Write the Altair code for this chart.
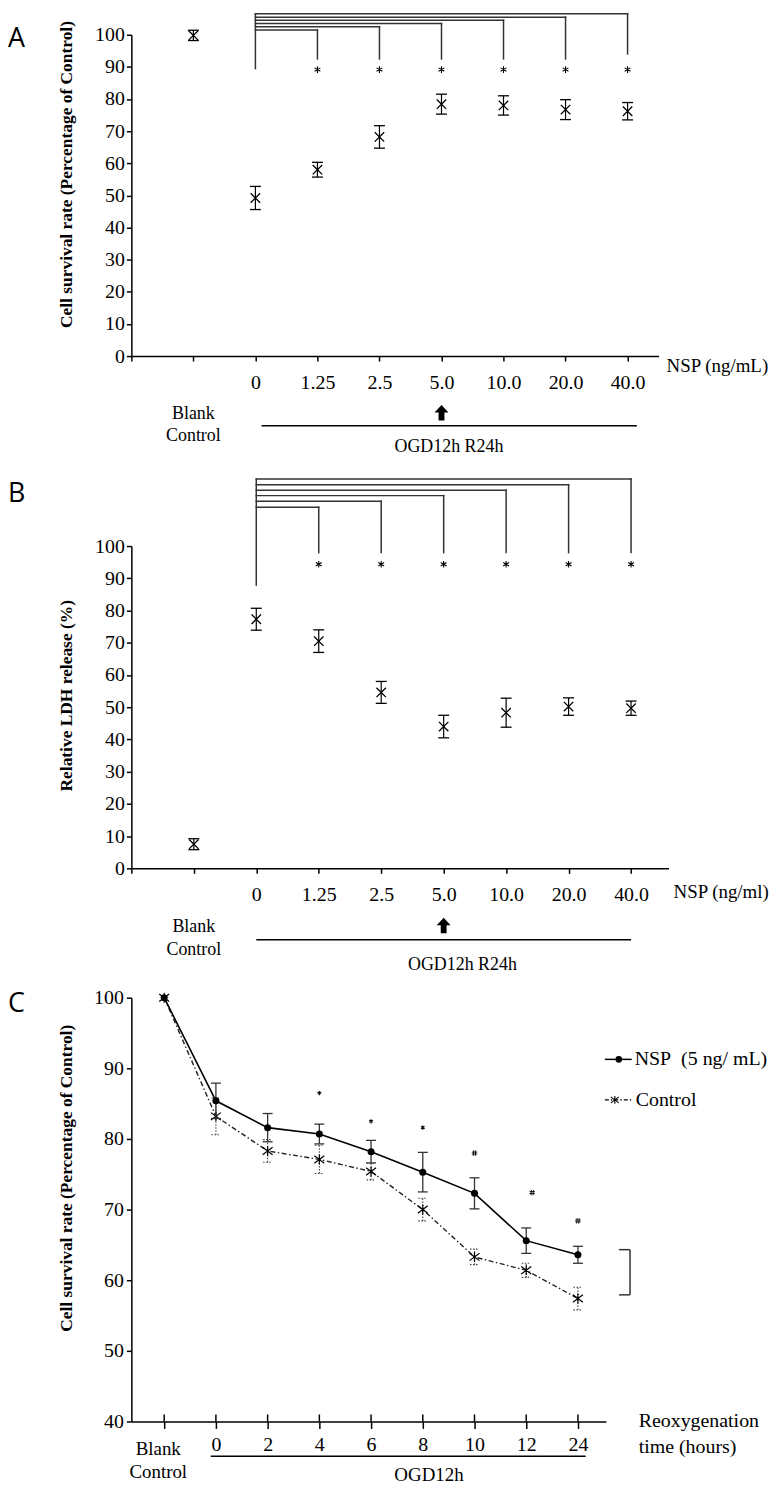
import altair as alt
import pandas as pd

# ---------------- values ----------------
# Panel A: cell survival rate (% of control), groups: Blank Control, NSP 0 ... 40.0 ng/mL
A_TICKS = ["", "", "0", "1.25", "2.5", "5.0", "10.0", "20.0", "40.0"]
A_MEAN = [99.8, 49.2, 58.0, 68.2, 78.4, 78.0, 76.7, 76.2]
A_ERR = [1.6, 3.6, 2.3, 3.5, 3.1, 3.0, 3.1, 2.7]
A_SIG = ["", "", "*", "*", "*", "*", "*", "*"]

# Panel B: relative LDH release (%)
B_TICKS = ["", "", "0", "1.25", "2.5", "5.0", "10.0", "20.0", "40.0"]
B_MEAN = [7.5, 77.3, 70.5, 54.6, 44.0, 48.3, 50.2, 49.7]
B_ERR = [1.7, 3.4, 3.5, 3.4, 3.5, 4.5, 2.7, 2.2]
B_SIG = ["", "", "*", "*", "*", "*", "*", "*"]

# Panel C: survival vs reoxygenation time (Blank, 0, 2, 4, 6, 8, 10, 12, 24 h)
C_TICKS = ["", "0", "2", "4", "6", "8", "10", "12", "24"]
C_NSP_MEAN = [100.0, 85.4, 81.6, 80.7, 78.2, 75.3, 72.3, 65.6, 63.6]
C_NSP_ERR = [0.0, 2.5, 2.0, 1.4, 1.6, 2.8, 2.2, 1.8, 1.2]
C_CTL_MEAN = [100.0, 83.2, 78.3, 77.1, 75.4, 70.0, 63.3, 61.4, 57.4]
C_CTL_ERR = [0.0, 2.6, 1.6, 2.0, 1.2, 1.6, 1.1, 1.0, 1.6]
C_SIG = ["", "", "", "*", "*", "*", "#", "#", "#"]
C_SIG_Y = [0, 0, 0, 86.5, 82.5, 81.6, 78.0, 72.4, 68.4]

SERIF = "Liberation Serif"
SANS = "Open Sans"
INK = "black"
LINE = "#333333"

X_PATH = "M-1,-1L1,1M-1,1L1,-1"
STAR_PATH = "M0,-1L0,1M-0.87,-0.5L0.87,0.5M-0.87,0.5L0.87,-0.5"
HASH_PATH = "M-0.3,-1L-0.45,1M0.45,-1L0.3,1M-1,-0.35L1,-0.35M-1,0.35L1,0.35"
ASTER_PATH = "M-1,-0.75L1,0.75M-1,0.75L1,-0.75M0,-1L0,1"
ARROW_PATH = "M0,-1L0.9,-0.05L0.38,-0.05L0.38,1L-0.38,1L-0.38,-0.05L-0.9,-0.05Z"

ONE = pd.DataFrame({"k": [0]})


def label_expr(labels):
    arr = ",".join("'" + s + "'" for s in labels)
    return "[" + arr + "][round(datum.value)]"


def ptext(s, px, py, size=18, align="center", font=SERIF, weight="normal"):
    return alt.Chart(ONE).mark_text(
        text=s, font=font, fontSize=size, fontWeight=weight, align=align,
        baseline="middle", color=INK, fill=INK
    ).encode(x=alt.value(px), y=alt.value(py))


def bound(py):
    return alt.Chart(ONE).mark_rule(color="white", strokeWidth=0.01).encode(
        x=alt.value(0), x2=alt.value(10), y=alt.value(py))


def dose_panel(letter, means, errs, sig, ticks, ytitle, xname, W, H, xmax, g):
    xscale = alt.Scale(domain=[0, xmax], nice=False, zero=False)
    yscale = alt.Scale(domain=[0, 100], nice=False, zero=False)
    xaxis = alt.Axis(values=list(range(len(ticks))), labelExpr=label_expr(ticks),
                     tickSize=5, labelPadding=g["lpad"], labelFlush=False,
                     labelOverlap=False, domainWidth=1.5, tickWidth=1.5)
    yaxis = alt.Axis(values=list(range(0, 101, 10)), tickSize=5, labelPadding=2,
                     titleX=-56, titleY=g["ty"], titleBaseline="bottom",
                     domainWidth=1.5, tickWidth=1.5)

    def X(f):
        return alt.X(f + ":Q", scale=xscale, axis=xaxis, title=None)

    def Y(f):
        return alt.Y(f + ":Q", scale=yscale, axis=yaxis, title=ytitle)

    def v(py):
        return 100.0 - py * 100.0 / H

    n = len(means)
    pos = list(range(1, n + 1))
    lo = [m - e for m, e in zip(means, errs)]
    hi = [m + e for m, e in zip(means, errs)]
    d = pd.DataFrame({"pos": pos, "val": means, "lo": lo, "hi": hi})
    caps = pd.DataFrame({"pos": pos * 2, "cap": lo + hi})

    bars = alt.Chart(d).mark_rule(color=INK, strokeWidth=1.2).encode(
        x=X("pos"), y=Y("lo"), y2=alt.Y2("hi"))
    capm = alt.Chart(caps).mark_rule(color=INK, strokeWidth=1.3, xOffset=-5.5, x2Offset=5.5).encode(
        x=X("pos"), x2=alt.X2("pos"), y=Y("cap"))
    pts = alt.Chart(d).mark_point(shape=X_PATH, size=90, filled=False, color=INK,
                                  strokeWidth=1.3, opacity=1).encode(x=X("pos"), y=Y("val"))

    sig_pos = [p for p, s in zip(pos, sig) if s == "*"]
    stars = alt.Chart(pd.DataFrame({"pos": sig_pos, "val": [v(g["star"])] * len(sig_pos)})).mark_point(
        shape=STAR_PATH, size=45, filled=False, color=INK, strokeWidth=1.1, opacity=1
    ).encode(x=X("pos"), y=Y("val"))

    base = pos[1]
    hz = pd.DataFrame({"pos": [base] * len(sig_pos), "pos2": sig_pos,
                       "val": [v(p) for p in g["levels"]]})
    vt = pd.DataFrame({"pos": sig_pos + [base],
                       "lo": [v(p) for p in g["drops"]] + [v(g["base_bottom"])],
                       "hi": [v(p) for p in g["levels"]] + [v(min(g["levels"]))]})
    hz_r = alt.Chart(hz).mark_rule(color=LINE, strokeWidth=1.5, strokeCap="square").encode(
        x=X("pos"), x2=alt.X2("pos2"), y=Y("val"))
    vt_r = alt.Chart(vt).mark_rule(color=LINE, strokeWidth=1.5, strokeCap="square").encode(
        x=X("pos"), y=Y("lo"), y2=alt.Y2("hi"))

    def tpos(p, py, s, size=18):
        return alt.Chart(pd.DataFrame({"pos": [p]})).mark_text(
            text=s, font=SERIF, fontSize=size, align="center", baseline="middle", color=INK, fill=INK
        ).encode(x=X("pos"), y=alt.value(py))

    arrow = alt.Chart(pd.DataFrame({"pos": [5]})).mark_point(
        shape=ARROW_PATH, size=240, filled=True, color=INK, opacity=1
    ).encode(x=X("pos"), y=alt.value(g["arrow"]))
    ogd = alt.Chart(pd.DataFrame({"pos": [g["ogd_range"][0]], "pos2": [g["ogd_range"][1]]})).mark_rule(
        color=INK, strokeWidth=1.5).encode(x=X("pos"), x2=alt.X2("pos2"), y=alt.value(g["ogd_line"]))

    layers = [
        bound(g["top"]), bound(g["bottom"]),
        bars, capm, pts, stars, hz_r, vt_r,
        ptext(letter, -124, g["letter"], size=27, align="left", font=SANS),
        ptext(xname, g["nsp"][0], g["nsp"][1], align="left", size=19),
        tpos(1, g["blank"][0], "Blank"), tpos(1, g["blank"][1], "Control"),
        arrow, ogd, tpos(g["ogd_x"], g["ogd_text"], "OGD12h R24h"),
    ]
    return alt.layer(*layers).properties(width=W, height=H)


HA = 323
panel_a = dose_panel(
    "A", A_MEAN, A_ERR, A_SIG, A_TICKS, "Cell survival rate (Percentage of Control)",
    "NSP (ng/mL)", 530, HA, 8.5,
    dict(lpad=11.5, ty=140, star=35,
         levels=[-4.7, -8.0, -11.2, -14.5, -17.7, -21.0],
         drops=[24.3, 24.3, 24.3, 24.3, 24.3, 19.3], base_bottom=34,
         blank=[HA + 58, HA + 80], arrow=HA + 57, ogd_line=HA + 70,
         ogd_text=HA + 91, ogd_x=5.12, ogd_range=(2.1, 8.15),
         nsp=(538, HA + 10), letter=4, top=-21, bottom=432))

HB = 324
panel_b = dose_panel(
    "B", B_MEAN, B_ERR, B_SIG, B_TICKS, "Relative LDH release (%)",
    "NSP (ng/ml)", 540, HB, 8.6,
    dict(lpad=11.5, ty=150, star=18.3,
         levels=[-39.0, -45.0, -50.7, -56.0, -61.7, -67.4],
         drops=[6.6] * 6, base_bottom=39.3,
         blank=[HB + 59, HB + 82], arrow=HB + 57.5, ogd_line=HB + 71.7,
         ogd_text=HB + 97, ogd_x=5.3, ogd_range=(2.0, 8.0),
         nsp=(545, HB + 24), letter=-52.7, top=-80.7, bottom=438.3))


def recovery_panel():
    W, H = 477, 426
    xscale = alt.Scale(domain=[-0.635, 8.54], nice=False, zero=False)
    yscale = alt.Scale(domain=[40, 100], nice=False, zero=False)
    xaxis = alt.Axis(values=list(range(9)), labelExpr=label_expr(C_TICKS), tickSize=7,
                     labelPadding=6.5, labelFlush=False, labelOverlap=False,
                     domainWidth=1.5, tickWidth=1.5)
    yaxis = alt.Axis(values=list(range(40, 101, 10)), tickSize=5, labelPadding=3,
                     titleX=-56, titleY=181, titleBaseline="bottom",
                     domainWidth=1.5, tickWidth=1.5)
    ytitle = "Cell survival rate (Percentage of Control)"

    def X(f):
        return alt.X(f + ":Q", scale=xscale, axis=xaxis, title=None)

    def Y(f):
        return alt.Y(f + ":Q", scale=yscale, axis=yaxis, title=ytitle)

    pos = list(range(len(C_NSP_MEAN)))
    nsp = pd.DataFrame({"pos": pos, "val": C_NSP_MEAN,
                        "lo": [m - e for m, e in zip(C_NSP_MEAN, C_NSP_ERR)],
                        "hi": [m + e for m, e in zip(C_NSP_MEAN, C_NSP_ERR)],
                        "err": C_NSP_ERR})
    ctl = pd.DataFrame({"pos": pos, "val": C_CTL_MEAN,
                        "lo": [m - e for m, e in zip(C_CTL_MEAN, C_CTL_ERR)],
                        "hi": [m + e for m, e in zip(C_CTL_MEAN, C_CTL_ERR)],
                        "err": C_CTL_ERR})
    nsp_e = nsp[nsp["err"] > 0]
    ctl_e = ctl[ctl["err"] > 0]
    nsp_caps = pd.DataFrame({"pos": list(nsp_e["pos"]) * 2, "cap": list(nsp_e["lo"]) + list(nsp_e["hi"])})
    ctl_caps = pd.DataFrame({"pos": list(ctl_e["pos"]) * 2, "cap": list(ctl_e["lo"]) + list(ctl_e["hi"])})

    DASHDOT = [5, 2.5, 1.5, 2.5]
    ctl_bar = alt.Chart(ctl_e).mark_rule(color="#444", strokeWidth=1.1, strokeDash=[1.5, 1.5]).encode(
        x=X("pos"), y=Y("lo"), y2=alt.Y2("hi"))
    ctl_cap = alt.Chart(ctl_caps).mark_rule(color="#444", strokeWidth=1.1, strokeDash=[1.5, 1.5],
                                            xOffset=-4.5, x2Offset=4.5).encode(
        x=X("pos"), x2=alt.X2("pos"), y=Y("cap"))
    ctl_line = alt.Chart(ctl).mark_line(color="#222", strokeWidth=1.4, strokeDash=DASHDOT).encode(
        x=X("pos"), y=Y("val"))
    ctl_pts = alt.Chart(ctl).mark_point(shape=ASTER_PATH, size=100, filled=False, color=INK,
                                        strokeWidth=1.2, opacity=1).encode(x=X("pos"), y=Y("val"))
    nsp_bar = alt.Chart(nsp_e).mark_rule(color=LINE, strokeWidth=1.3).encode(
        x=X("pos"), y=Y("lo"), y2=alt.Y2("hi"))
    nsp_cap = alt.Chart(nsp_caps).mark_rule(color=LINE, strokeWidth=1.3, xOffset=-5, x2Offset=5).encode(
        x=X("pos"), x2=alt.X2("pos"), y=Y("cap"))
    nsp_line = alt.Chart(nsp).mark_line(color=INK, strokeWidth=1.6).encode(x=X("pos"), y=Y("val"))
    nsp_pts = alt.Chart(nsp).mark_point(shape="circle", size=50, filled=True, color=INK,
                                        opacity=1).encode(x=X("pos"), y=Y("val"))

    star_rows = [(p, y) for p, s, y in zip(pos, C_SIG, C_SIG_Y) if s == "*"]
    hash_rows = [(p, y) for p, s, y in zip(pos, C_SIG, C_SIG_Y) if s == "#"]
    stars = alt.Chart(pd.DataFrame({"pos": [r[0] for r in star_rows], "val": [r[1] for r in star_rows]})).mark_point(
        shape=STAR_PATH, size=18, filled=False, color=INK, strokeWidth=1.1, opacity=1
    ).encode(x=X("pos"), y=Y("val"))
    hash_main = [r for r in hash_rows if r[0] != 7]
    hash_shift = [r for r in hash_rows if r[0] == 7]
    hashes = alt.Chart(pd.DataFrame({"pos": [r[0] for r in hash_main], "val": [r[1] for r in hash_main]})).mark_point(
        shape=HASH_PATH, size=30, filled=False, color=INK, strokeWidth=0.9, opacity=1
    ).encode(x=X("pos"), y=Y("val"))
    hashes2 = alt.Chart(pd.DataFrame({"pos": [r[0] for r in hash_shift], "val": [r[1] for r in hash_shift]})).mark_point(
        shape=HASH_PATH, size=30, filled=False, color=INK, strokeWidth=0.9, opacity=1, xOffset=6
    ).encode(x=X("pos"), y=Y("val"))

    xticks_up = alt.Chart(pd.DataFrame({"pos": pos})).mark_rule(color=INK, strokeWidth=1.5).encode(
        x=X("pos"), y=alt.value(H), y2=alt.value(H - 7))

    def tpos(p, py, s, size=19):
        return alt.Chart(pd.DataFrame({"pos": [p]})).mark_text(
            text=s, font=SERIF, fontSize=size, align="center", baseline="middle", color=INK, fill=INK
        ).encode(x=X("pos"), y=alt.value(py))

    ogd = alt.Chart(pd.DataFrame({"pos": [0.9], "pos2": [8.15]})).mark_rule(color=INK, strokeWidth=1.5).encode(
        x=X("pos"), x2=alt.X2("pos2"), y=alt.value(H + 35))

    def prule(x1, x2, y1, y2, dash=None, color=INK, w=1.5):
        kw = dict(color=color, strokeWidth=w)
        if dash:
            kw["strokeDash"] = dash
        return alt.Chart(ONE).mark_rule(**kw).encode(
            x=alt.value(x1), x2=alt.value(x2), y=alt.value(y1), y2=alt.value(y2))

    leg_dot = alt.Chart(ONE).mark_point(shape="circle", size=45, filled=True, color=INK, opacity=1).encode(
        x=alt.value(490), y=alt.value(62))
    leg_ast = alt.Chart(ONE).mark_point(shape=ASTER_PATH, size=64, filled=False, color=INK,
                                        strokeWidth=1.1, opacity=1).encode(x=alt.value(486), y=alt.value(102.7))

    layers = [
        bound(-14),
        ctl_bar, ctl_cap, ctl_line, ctl_pts,
        nsp_bar, nsp_cap, nsp_line, nsp_pts,
        stars, hashes, hashes2, xticks_up,
        ptext("C", -124, 6, size=27, align="left", font=SANS),
        tpos(-0.115, H + 28, "Blank"), tpos(-0.115, H + 51, "Control"),
        ogd, tpos(5.12, H + 54, "OGD12h"),
        ptext("Reoxygenation", 510, H, align="left", size=20),
        ptext("time (hours)", 510, H + 26, align="left", size=20),
        prule(476, 503, 62, 62, w=1.5), leg_dot,
        ptext("NSP\u00a0\u00a0(5 ng/ mL)", 506, 62, align="left", size=20),
        prule(476, 504, 102.7, 102.7, dash=[4, 2, 1.5, 2], w=1.3), leg_ast,
        ptext("Control", 507, 102.7, align="left", size=20),
        prule(501.3, 501.3, 253.3, 298.7, color=LINE),
        prule(490.3, 501.3, 253.3, 253.3, color=LINE),
        prule(490.3, 501.3, 298.7, 298.7, color=LINE),
    ]
    return alt.layer(*layers).properties(width=W, height=H)


panel_c = recovery_panel()

chart = alt.vconcat(panel_a, panel_b, panel_c, spacing=0).properties(padding=0).configure_view(
    stroke=None
).configure_axis(
    labelFont=SERIF, labelFontSize=20, labelColor=INK,
    titleFont=SERIF, titleFontSize=17.5, titleFontWeight="bold", titleColor=INK,
    domainColor=INK, tickColor=INK, grid=False
)

chart.save("out.html", embed_options={"renderer": "svg", "actions": False})
